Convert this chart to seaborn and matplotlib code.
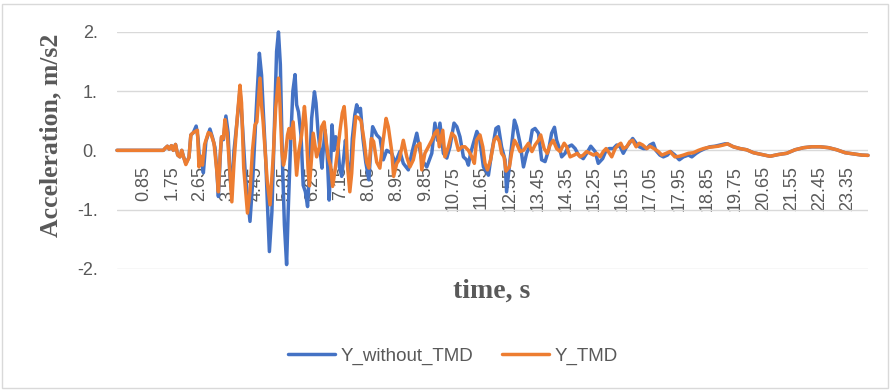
import matplotlib
matplotlib.use("Agg")
import matplotlib.pyplot as plt
import seaborn as sns
import pandas as pd
from matplotlib.patches import Rectangle

# ---------------- data ----------------
series_names = ["Y_without_TMD", "Y_TMD"]
series_colors = ["#4472C4", "#ED7D31"]

time_without = [0.00, 1.48, 1.53, 1.61, 1.67, 1.74, 1.80, 1.87, 1.94, 2.01, 2.07, 2.12, 2.20, 2.30, 2.36,
                2.44, 2.53, 2.59, 2.64, 2.70, 2.76, 2.84, 2.97, 3.05, 3.13, 3.19, 3.24, 3.30, 3.34, 3.40,
                3.48, 3.55, 3.61, 3.66, 3.74, 3.83, 3.93, 4.00, 4.10, 4.25, 4.33, 4.41, 4.48, 4.55, 4.62,
                4.67, 4.75, 4.80, 4.87, 4.95, 5.03, 5.10, 5.16, 5.22, 5.29, 5.35, 5.42, 5.47, 5.55, 5.62,
                5.69, 5.74, 5.80, 5.88, 5.95, 6.02, 6.09, 6.17, 6.22, 6.31, 6.36, 6.42, 6.49, 6.55, 6.59,
                6.65, 6.72, 6.78, 6.83, 6.87, 6.93, 6.99, 7.05, 7.11, 7.18, 7.25, 7.30, 7.37, 7.45, 7.52,
                7.60, 7.66, 7.72, 7.78, 7.86, 7.95, 8.05, 8.12, 8.17, 8.30, 8.41, 8.51, 8.62, 8.78, 8.89,
                9.04, 9.15, 9.31, 9.42, 9.58, 9.74, 9.90, 10.06, 10.16, 10.24, 10.32, 10.43, 10.54, 10.64,
                10.77, 10.86, 10.96, 11.07, 11.17, 11.23, 11.30, 11.39, 11.50, 11.58, 11.71, 11.87, 11.97,
                12.11, 12.19, 12.29, 12.40, 12.45, 12.56, 12.70, 12.77, 12.88, 12.99, 13.09, 13.18, 13.27,
                13.36, 13.47, 13.57, 13.68, 13.79, 13.89, 13.98, 14.05, 14.16, 14.21, 14.32, 14.42, 14.53,
                14.64, 14.75, 14.90, 15.01, 15.14, 15.28, 15.38, 15.52, 15.63, 15.73, 15.86, 15.97, 16.08,
                16.18, 16.29, 16.39, 16.48, 16.59, 16.69, 16.82, 16.93, 17.03, 17.14, 17.22, 17.35, 17.46,
                17.59, 17.69, 17.83, 17.97, 18.10, 18.26, 18.37, 18.51, 18.63, 18.79, 18.95, 19.11, 19.27,
                19.43, 19.51, 19.70, 19.91, 20.12, 20.34, 20.60, 20.87, 21.14, 21.40, 21.67, 21.94, 22.20,
                22.47, 22.74, 23.00, 23.27, 23.53, 23.80, 24.00]
acc_without = [0.00, 0.00, 0.03, 0.07, 0.02, 0.08, 0.00, 0.10, -0.08, -0.11, 0.00, -0.10, -0.22, -0.12, 0.26,
               0.30, 0.41, 0.20, -0.20, -0.15, -0.38, 0.15, 0.36, 0.22, 0.05, -0.33, -0.78, -0.10, 0.22, 0.18,
               0.58, 0.30, -0.44, -0.68, 0.00, 0.46, 1.02, 0.50, -0.40, -1.20, -0.58, 0.26, 0.99, 1.64, 1.27,
               0.71, -0.13, -0.81, -1.71, -1.04, 0.43, 1.67, 2.00, 1.45, -0.25, -1.26, -1.93, -1.04, 0.15, 1.00,
               1.28, 0.77, 0.65, 0.26, -0.59, -0.70, -0.95, -0.13, 0.54, 0.99, 0.80, 0.35, 0.00, -0.30, 0.00,
               0.34, -0.10, -0.84, -0.20, 0.43, 0.00, 0.23, 0.17, -0.28, -0.44, -0.10, 0.17, -0.22, -0.56, 0.20,
               0.60, 0.77, 0.65, 0.71, 0.20, -0.20, -0.50, 0.10, 0.40, 0.26, 0.20, -0.16, 0.00, -0.05, -0.22,
               -0.02, -0.22, -0.33, -0.05, 0.29, -0.16, -0.28, -0.05, 0.46, 0.17, 0.46, -0.05, -0.13, 0.06,
               0.46, 0.40, 0.23, -0.11, -0.16, -0.25, -0.05, 0.12, 0.32, 0.23, -0.28, -0.42, -0.05,
               0.37, 0.40, 0.06, -0.16, -0.70, -0.16, 0.51, 0.40, 0.12, -0.28, -0.05, 0.06, 0.34,
               0.37, 0.29, -0.16, -0.19, 0.00, 0.29, 0.39, 0.17, 0.00, -0.11, -0.05, 0.06, 0.09,
               0.03, -0.08, -0.14, -0.05, 0.07, -0.02, -0.22, -0.14, 0.00, 0.03, 0.03, 0.09, 0.06,
               -0.05, 0.06, 0.13, 0.20, 0.12, 0.06, 0.03, 0.03, 0.09, 0.12, 0.00, -0.08, -0.11,
               -0.08, -0.02, -0.08, -0.16, -0.11, -0.08, -0.11, -0.05, -0.01, 0.03, 0.06, 0.07, 0.09,
               0.11, 0.11, 0.06, 0.03, 0.01, -0.04, -0.07, -0.10, -0.07, -0.05, 0.01, 0.045, 0.06,
               0.06, 0.045, 0.01, -0.04, -0.06, -0.08, -0.085]

time_tmd = [0.00, 1.48, 1.53, 1.61, 1.67, 1.74, 1.80, 1.87, 1.94, 2.01, 2.07, 2.12, 2.20, 2.30, 2.36,
            2.44, 2.50, 2.57, 2.62, 2.68, 2.73, 2.80, 2.92, 3.00, 3.10, 3.19, 3.24, 3.30, 3.34, 3.40,
            3.45, 3.52, 3.60, 3.67, 3.74, 3.83, 3.93, 3.98, 4.05, 4.17, 4.25, 4.33, 4.41, 4.47, 4.57,
            4.62, 4.67, 4.75, 4.80, 4.89, 4.99, 5.07, 5.16, 5.21, 5.27, 5.32, 5.37, 5.45, 5.50, 5.55,
            5.63, 5.69, 5.74, 5.81, 5.90, 5.99, 6.04, 6.11, 6.15, 6.22, 6.27, 6.38, 6.47, 6.54, 6.62,
            6.68, 6.75, 6.83, 6.89, 6.97, 7.04, 7.13, 7.20, 7.26, 7.32, 7.36, 7.44, 7.50, 7.56, 7.63,
            7.72, 7.80, 7.90, 7.98, 8.05, 8.13, 8.20, 8.30, 8.40, 8.50, 8.60, 8.67, 8.78, 8.84, 8.94,
            9.02, 9.15, 9.26, 9.36, 9.47, 9.56, 9.68, 9.74, 9.84, 9.95, 10.06, 10.16, 10.24, 10.30,
            10.41, 10.48, 10.59, 10.70, 10.80, 10.91, 11.02, 11.12, 11.23, 11.34, 11.42, 11.49, 11.60,
            11.69, 11.76, 11.84, 11.94, 12.05, 12.14, 12.22, 12.29, 12.37, 12.43, 12.54, 12.61, 12.70,
            12.79, 12.88, 12.99, 13.07, 13.15, 13.26, 13.36, 13.47, 13.54, 13.65, 13.75, 13.84, 13.94,
            14.05, 14.16, 14.29, 14.37, 14.48, 14.61, 14.71, 14.80, 14.90, 15.01, 15.12, 15.23, 15.33,
            15.44, 15.54, 15.63, 15.70, 15.81, 15.92, 16.02, 16.10, 16.18, 16.29, 16.39, 16.48, 16.59,
            16.69, 16.80, 16.93, 17.03, 17.16, 17.30, 17.41, 17.55, 17.67, 17.83, 17.97, 18.10, 18.26,
            18.42, 18.58, 18.74, 18.90, 19.05, 19.22, 19.38, 19.51, 19.70, 19.91, 20.12, 20.34, 20.60,
            20.87, 21.14, 21.40, 21.67, 21.94, 22.20, 22.47, 22.74, 23.00, 23.27, 23.53, 23.80, 24.00]
acc_tmd = [0.00, 0.00, 0.03, 0.07, 0.02, 0.08, 0.00, 0.10, -0.08, -0.11, 0.00, -0.10, -0.24, -0.12, 0.26,
           0.30, 0.32, 0.34, -0.28, -0.10, -0.25, 0.10, 0.30, 0.28, 0.12, -0.35, -0.70, -0.05, 0.23, 0.20,
           0.52, 0.30, -0.30, -0.87, -0.20, 0.46, 1.10, 0.80, -0.30, -1.06, -0.70, 0.00, 0.43, 0.48, 1.22,
           0.76, 0.48, -0.13, -0.52, -0.92, -0.13, 0.71, 1.22, 0.76, -0.02, -0.25, -0.13, 0.26, 0.37, 0.20,
           0.48, -0.02, -0.42, -0.02, 0.26, 0.74, 0.43, -0.36, -0.60, -0.11, 0.29, -0.11, 0.06, 0.40, 0.48,
           0.17, -0.11, -0.28, -0.61, -0.33, -0.05, 0.35, 0.63, 0.74, 0.35, -0.22, -0.70, -0.39, 0.17, 0.57,
           0.55, 0.50, 0.15, -0.20, -0.30, 0.20, 0.15, -0.20, -0.30, 0.15, 0.54, 0.40, -0.02, -0.44, -0.22,
           -0.16, 0.17, -0.11, -0.28, -0.16, 0.06, 0.12, -0.33, -0.05, 0.06, 0.17, 0.29, 0.34, 0.06,
           0.34, -0.11, 0.06, 0.29, 0.23, 0.00, 0.06, 0.06, 0.00, -0.11, -0.22, 0.17, 0.26,
           0.06, -0.22, -0.33, -0.16, 0.17, 0.23, 0.15, -0.05, -0.11, -0.35, -0.28, -0.05, 0.17,
           0.09, -0.02, 0.00, 0.06, 0.12, -0.02, 0.09, 0.17, 0.26, 0.03, -0.05, 0.09, 0.17,
           0.03, -0.02, 0.12, 0.06, -0.11, -0.08, -0.05, -0.11, -0.08, -0.02, -0.05, -0.08, -0.05,
           -0.11, -0.02, 0.03, -0.02, -0.11, 0.03, 0.09, 0.12, 0.03, 0.06, 0.15, 0.17, 0.06,
           0.12, 0.09, 0.03, 0.07, 0.03, -0.02, -0.08, -0.05, -0.02, -0.11, -0.10, -0.08, -0.05,
           -0.04, 0.00, 0.03, 0.05, 0.06, 0.07, 0.09, 0.11, 0.06, 0.03, 0.01, -0.04, -0.07,
           -0.10, -0.07, -0.05, 0.01, 0.045, 0.06, 0.06, 0.045, 0.01, -0.04, -0.06, -0.08, -0.085]

xtick_values = [0.85, 1.75, 2.65, 3.55, 4.45, 5.35, 6.25, 7.15, 8.05, 8.95, 9.85, 10.75, 11.65,
                12.55, 13.45, 14.35, 15.25, 16.15, 17.05, 17.95, 18.85, 19.75, 20.65, 21.55, 22.45, 23.35]
xtick_labels = ["0.85", "1.75", "2.65", "3.55", "4.45", "5.35", "6.25", "7.15", "8.05", "8.95", "9.85",
                "10.75", "11.65", "12.55", "13.45", "14.35", "15.25", "16.15", "17.05", "17.95", "18.85",
                "19.75", "20.65", "21.55", "22.45", "23.35"]
ytick_values = [-2, -1, 0, 1, 2]
ytick_labels = ["-2.", "-1.", "0.", "1.", "2."]

# ---------------- build long table ----------------
df = pd.concat([
    pd.DataFrame({"time": time_without, "acc": acc_without, "series": series_names[0]}),
    pd.DataFrame({"time": time_tmd, "acc": acc_tmd, "series": series_names[1]}),
], ignore_index=True)

sns.set_theme(style="white")
plt.rcParams["font.family"] = ["Liberation Sans", "DejaVu Sans"]

W, H = 892, 390
fig = plt.figure(figsize=(W / 100, H / 100), dpi=100)
left, right, top, bottom = 117, 868, 32, 268.7
ax = fig.add_axes([left / W, 1 - bottom / H, (right - left) / W, (bottom - top) / H])

sns.lineplot(data=df, x="time", y="acc", hue="series", hue_order=series_names,
             palette=series_colors, estimator=None, sort=False, linewidth=2.5,
             ax=ax, legend=False)
for ln in ax.lines:
    ln.set_clip_on(False)
    ln.set_solid_joinstyle("round")

ax.set_xlim(0, 24)
ax.set_ylim(-2, 2)
ax.set_axisbelow(True)
ax.yaxis.grid(True, color="#d9d9d9", linewidth=1.0)
ax.xaxis.grid(False)
for s in ax.spines.values():
    s.set_visible(False)
ax.spines["bottom"].set_position(("data", 0))

ax.set_xticks(xtick_values)
ax.set_xticklabels(xtick_labels, rotation=90)
ax.set_yticks(ytick_values)
ax.set_yticklabels(ytick_labels)
ax.tick_params(axis="x", length=0, pad=11, labelsize=13, labelcolor="#595959")
ax.tick_params(axis="y", length=0, pad=14, labelsize=13, labelcolor="#595959")
ax.set_xlabel("")
ax.set_ylabel("")

fig.text(51 / W, 1 - 135 / H, "Acceleration, m/s2", rotation=90, ha="center", va="center",
         fontsize=18.5, fontweight="bold", family=["Liberation Serif", "DejaVu Serif"], color="#595959")
fig.text(492 / W, 1 - 291 / H, "time, s", ha="center", va="center",
         fontsize=20, fontweight="bold", family=["Liberation Serif", "DejaVu Serif"], color="#595959")

handles = ax.lines[:2]
leg = fig.legend(handles, series_names, loc="center", bbox_to_anchor=(453 / W, 1 - 356 / H),
                 ncol=2, frameon=False, fontsize=13.5, handlelength=2.5, handletextpad=0.3,
                 columnspacing=1.5)
for t in leg.get_texts():
    t.set_color("#595959")

fig.patches.append(Rectangle((2 / W, 2 / H), 886 / W, 384 / H, transform=fig.transFigure,
                             fill=False, edgecolor="#d9d9d9", linewidth=1.0))

fig.savefig("out.png", dpi=100)
